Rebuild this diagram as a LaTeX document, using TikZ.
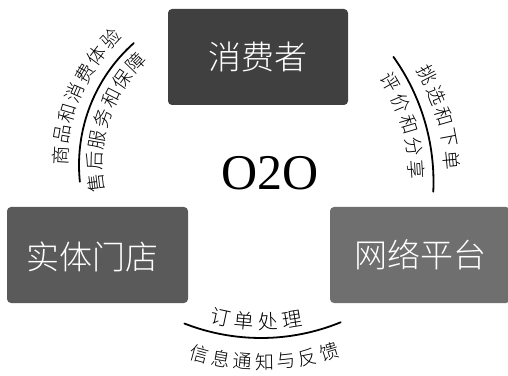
\documentclass[tikz,border=0pt]{standalone}
\usepackage{fontspec}
\setmainfont{Liberation Serif}
\newfontfamily\cjk{Noto Sans CJK SC Light}
\definecolor{cA}{HTML}{404040}
\definecolor{cB}{HTML}{5A5A5A}
\definecolor{cC}{HTML}{6F6F6F}
\begin{document}
\begin{tikzpicture}[x=1pt,y=1pt,
  box/.style={rounded corners=4pt, minimum width=180pt, minimum height=96pt, text=white, font=\cjk\fontsize{33}{33}\selectfont, inner sep=0pt},
  arcline/.style={line width=1.8pt, line cap=round},
  arctext/.style={font=\cjk\fontsize{19}{19}\selectfont, inner sep=0pt, anchor=center},
  bigtext/.style={font=\cjk\fontsize{20}{20}\selectfont, inner sep=0pt, anchor=center}]
\useasboundingbox (0,0) rectangle (508,375);
\node[box, fill=cA] (consumer) at (258,318) {消费者};
\node[box, fill=cB, minimum width=181pt] (store) at (97.5,120) {};
\node[text=white, font=\cjk\fontsize{33}{33}\selectfont, inner sep=0pt] (storet) at (92,118) {实体门店};
\node[box, fill=cC] (platform) at (420,120) {网络平台};
\node[font=\fontsize{50}{50}\selectfont, inner sep=0pt] (o2o) at (270,202) {O2O};
% left arc
\coordinate (cl) at (242,210);
\draw[arcline] (cl) ++(131.6:163) arc[start angle=131.6, end angle=185.9, radius=163];
\foreach \c [count=\i from 0] in {商,品,和,消,费,体,验}
  \path (cl) ++({177-6.8*\i}:182) node[arctext, rotate={87-6.8*\i}] (lo\i) {\c};
\foreach \c [count=\i from 0] in {售,后,服,务,和,保,障}
  \path (cl) ++({187-8.5*\i}:147) node[arctext, rotate={97-8.5*\i}] (li\i) {\c};
% right arc
\coordinate (cr) at (218,193);
\draw[arcline] (cr) ++(35.5:215.5) arc[start angle=35.5, end angle=-2.6, radius=215.5];
\foreach \c [count=\i from 0] in {挑,选,和,下,单}
  \path (cr) ++({27.1-5.43*\i}:235) node[arctext, rotate={-62.9-5.43*\i}] (ro\i) {\c};
\foreach \c [count=\i from 0] in {评,价,和,分,享}
  \path (cr) ++({29.9-6.6*\i}:199) node[arctext, rotate={-60.1-6.6*\i}] (ri\i) {\c};
% bottom arc
\coordinate (cb) at (261,247);
\draw[arcline] (cb) ++(248.6:210) arc[start angle=248.6, end angle=292.3, radius=210];
\foreach \c [count=\i from 0] in {订,单,处,理}
  \path (cb) ++({257.9+7.13*\i}:194) node[bigtext, rotate={347.9+7.13*\i}] (bu\i) {\c};
\foreach \c [count=\i from 0] in {信,息,通,知,与,反,馈}
  \path (cb) ++({254.8+5.35*\i}:234) node[arctext, rotate={344.8+5.35*\i}] (bl\i) {\c};
\end{tikzpicture}
\end{document}
